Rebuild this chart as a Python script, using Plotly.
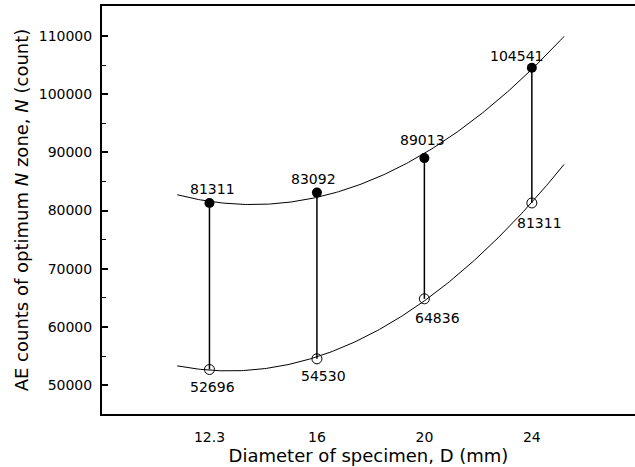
import numpy as np
import plotly.graph_objects as go

diameters = ["12.3", "16", "20", "24"]
upper_counts = [81311, 83092, 89013, 104541]
lower_counts = [52696, 54530, 64836, 81311]
y_tick_vals = [50000, 60000, 70000, 80000, 90000, 100000, 110000]

# label offsets in pixels (style only)
upper_shift = [(3, 14), (-3, 14), (-2, 18), (-15, 12)]
lower_shift = [(3, -17), (7, -17), (13, -19), (8, -20)]

x_pos = np.arange(1, len(diameters) + 1)

# quadratic trend lines fitted to each series
xf = np.linspace(0.70, 4.30, 200)
up_fit = np.polyval(np.polyfit(x_pos, upper_counts, 2), xf)
lo_fit = np.polyval(np.polyfit(x_pos, lower_counts, 2), xf)

font = "DejaVu Sans, Liberation Sans, sans-serif"
fig = go.Figure()

fig.add_trace(go.Scatter(x=xf, y=up_fit, mode="lines",
                         line=dict(color="black", width=1), hoverinfo="skip"))
fig.add_trace(go.Scatter(x=xf, y=lo_fit, mode="lines",
                         line=dict(color="black", width=1), hoverinfo="skip"))

sx, sy = [], []
for xi, u, l in zip(x_pos, upper_counts, lower_counts):
    sx += [xi, xi, None]
    sy += [u, l, None]
fig.add_trace(go.Scatter(x=sx, y=sy, mode="lines",
                         line=dict(color="black", width=1.5), hoverinfo="skip"))

fig.add_trace(go.Scatter(x=x_pos, y=upper_counts, mode="markers",
                         marker=dict(symbol="circle", size=10, color="black")))
fig.add_trace(go.Scatter(x=x_pos, y=lower_counts, mode="markers",
                         marker=dict(symbol="circle-open", size=10, color="black",
                                     line=dict(width=1))))

ann = []
for xi, v, (dx, dy) in zip(x_pos, upper_counts, upper_shift):
    ann.append(dict(x=xi, y=v, text=str(v), showarrow=False, xshift=dx, yshift=dy,
                    font=dict(family=font, size=14, color="black")))
for xi, v, (dx, dy) in zip(x_pos, lower_counts, lower_shift):
    ann.append(dict(x=xi, y=v, text=str(v), showarrow=False, xshift=dx, yshift=dy,
                    font=dict(family=font, size=14, color="black")))

fig.update_layout(
    width=635, height=467,
    margin=dict(l=102, r=0, t=6, b=53),
    paper_bgcolor="white", plot_bgcolor="white",
    showlegend=False,
    annotations=ann,
    font=dict(family=font, size=14, color="black"),
    xaxis=dict(range=[0, 4.96], tickmode="array", tickvals=x_pos, ticktext=diameters,
               showline=True, linecolor="black", linewidth=2, mirror=True,
               ticks="", showgrid=False, zeroline=False,
               ticklabelstandoff=9,
               tickfont=dict(family=font, size=14),
               title=dict(text="Diameter of specimen, D (mm)", standoff=1,
                          font=dict(family=font, size=18))),
    yaxis=dict(range=[45050, 115150], tickmode="array", tickvals=y_tick_vals,
               tickformat="d",
               showline=True, linecolor="black", linewidth=2,
               ticks="inside", ticklen=6, tickwidth=1.5, tickcolor="black",
               minor=dict(dtick=5000, ticks="inside", ticklen=4, tickwidth=1, tickcolor="black"),
               ticklabelstandoff=5,
               showgrid=False, zeroline=False,
               tickfont=dict(family=font, size=14),
               title=dict(text="AE counts of optimum <i>N</i> zone, <i>N</i> (count)",
                          standoff=5, font=dict(family=font, size=18))),
)

fig.write_html("out.html")
